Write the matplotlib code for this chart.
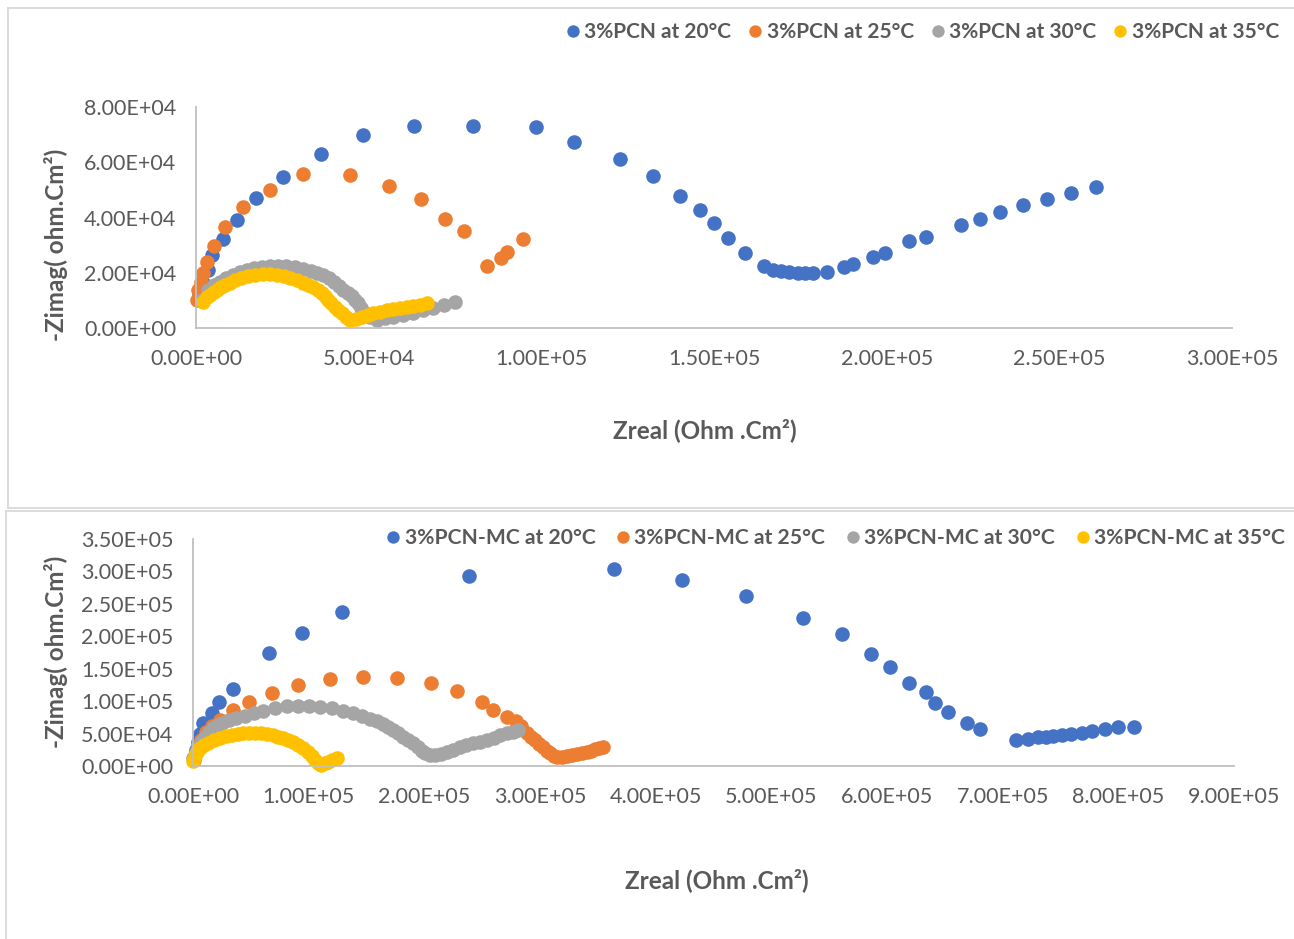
import matplotlib
matplotlib.use("Agg")
import matplotlib.pyplot as plt
from matplotlib.ticker import FuncFormatter, MultipleLocator
from matplotlib.lines import Line2D

plt.rcParams['font.family'] = ['Lato', 'DejaVu Sans']

# ---------------- data: top panel (3%PCN) ----------------
top_labels = ["3%PCN at 20°C", "3%PCN at 25°C", "3%PCN at 30°C", "3%PCN at 35°C"]

pcn20_x = [870, 2030, 3480, 4630, 7820, 11870, 17380, 25200, 36200, 48360, 63130, 80220,
           98460, 109470, 122790, 132350, 140170, 145960, 150010, 154070, 158990, 164490,
           167100, 169420, 171730, 174340, 176370, 178680, 182740, 187660, 190270, 196060,
           199530, 206490, 211410, 221540, 227050, 232840, 239500, 246450, 253400, 260640]
pcn20_y = [11950, 16290, 21000, 26430, 32220, 39100, 47060, 54660, 62990, 69870, 73120, 73120,
           72760, 67330, 61180, 55020, 47780, 42720, 38010, 32580, 27150, 22440,
           21000, 20630, 20270, 19910, 19910, 19910, 20270, 22080, 23170, 25700,
           27150, 31490, 32940, 37290, 39460, 41990, 44530, 46700, 48870, 51040]

pcn25_x = [200, 580, 1450, 2030, 3190, 5210, 8400, 13610, 21430, 30990, 44600, 55890,
           65160, 72110, 77610, 84270, 88330, 90070, 94700]
pcn25_y = [10140, 13760, 16650, 19910, 23890, 29680, 36560, 43800, 49960, 55750, 55390, 51400,
           46700, 39460, 35110, 22440, 25340, 27510, 32220]

pcn30_x = [1740, 3480, 5210, 6950, 8690, 10710, 12740, 14770, 16800, 19110, 21430, 23740,
           26060, 28670, 30990, 33300, 35040, 36780, 38510, 39960, 41410, 42570, 44020, 45180,
           46050, 46920, 47780, 48940, 50390, 52420, 54730, 57050, 59950, 62840, 65740, 68630,
           71820, 75010]
pcn30_y = [10140, 13760, 15570, 16650, 18100, 19190, 20270, 21000, 21720, 22080, 22440, 22440,
           22440, 22080, 21360, 20630, 19910, 19190, 18100, 16650, 15200, 13760, 12670, 11580,
           10140, 9050, 7240, 5430, 3980, 2900, 3620, 3980, 4710, 5430, 6520, 7240,
           8330, 9410]

pcn35_x = [2030, 3190, 4050, 5210, 6080, 7240, 8400, 9850, 11290, 13030, 15060, 17090,
           19400, 21430, 23460, 25480, 27220, 29250, 30990, 32440, 33880, 35330, 36490, 37360,
           38220, 39090, 40250, 41120, 42270, 43430, 44590, 46330, 48070, 49810, 51260, 53280,
           55310, 57050, 59080, 61100, 62840, 64870, 66900]
pcn35_y = [9410, 11220, 11950, 13030, 13760, 14840, 15570, 16290, 17380, 18100, 18820, 19190,
           19550, 19550, 19190, 18820, 18100, 17380, 16290, 15570, 14840, 13760, 12670, 11580,
           10140, 9050, 7600, 6520, 5430, 3980, 2900, 3260, 3980, 4710, 5430, 5790,
           6520, 6880, 7240, 7600, 7960, 8330, 9050]

# ---------------- data: bottom panel (3%PCN-MC) ----------------
bot_labels = ["3%PCN-MC at 20°C", "3%PCN-MC at 25°C", "3%PCN-MC at 30°C", "3%PCN-MC at 35°C"]

mc20_x = [860, 2590, 4320, 6050, 8640, 16420, 22460, 34560, 65660, 94180, 128740, 238460,
          363740, 422500, 477790, 527040, 560740, 585790, 602210, 618620, 633310, 641090,
          652320, 668740, 680830, 711940, 722300, 730940, 737860, 743900, 751680, 759460,
          768960, 777600, 788830, 800060, 813890]
mc20_y = [12340, 24690, 37030, 49380, 66350, 81780, 98750, 118810, 174360, 205220, 237620, 293170,
          303970, 287000, 262310, 228360, 203680, 172820, 152760, 128070, 114180, 97210,
          83320, 66350, 57090, 40120, 41660, 44750, 44750, 46290, 47830, 49380,
          50920, 54010, 57090, 60180, 60180]

mc25_x = [860, 3460, 6910, 11230, 16420, 23330, 34560, 48380, 68260, 90720, 118370, 146880,
          176260, 205630, 228100, 249700, 259200, 271300, 279070, 283390, 288580, 292030,
          295490, 298940, 302400, 305860, 308450, 311900, 314500, 318820, 323140, 327460,
          331780, 336100, 340420, 343870, 347330, 350780, 354240]
mc25_y = [9260, 24690, 40120, 52460, 61720, 70980, 86410, 98750, 112640, 124980, 134240, 137330,
          135780, 128070, 115730, 98750, 86410, 75610, 69440, 61720, 50920, 44750,
          40120, 33950, 29320, 23150, 20060, 15430, 13890, 13890, 15430, 16970,
          18520, 20060, 21600, 23150, 26230, 27770, 29320]

mc30_x = [300, 2590, 4320, 6910, 10370, 13820, 17280, 21600, 25060, 31100, 37150, 44930,
          52700, 60480, 70850, 81220, 90720, 100220, 109730, 120100, 129600, 138240, 146020,
          152930, 158980, 164160, 168480, 172800, 177120, 181440, 185760, 190080, 194400,
          197860, 200450, 204770, 209090, 214270, 219460, 224640, 230690, 235870, 241920,
          247970, 254020, 260060, 265250, 271300, 276480, 280800]
mc30_y = [12340, 21600, 29320, 37030, 44750, 52460, 58630, 63260, 66350, 70980, 74060, 77150,
          81780, 84870, 89490, 92580, 92580, 92580, 91040, 89490, 84870, 81780, 77150,
          72520, 69440, 64810, 60180, 55550, 50920, 44750, 40120, 35490, 29320,
          23150, 20060, 16970, 16970, 18520, 21600, 24690, 29320, 32400, 35490,
          37030, 40120, 43200, 47830, 50920, 52460, 55550]

mc35_x = [200, 1730, 3460, 6050, 9500, 12960, 18140, 23330, 28510, 33700, 38880, 43200,
          48380, 53570, 58750, 63940, 69120, 73440, 77760, 82080, 86400, 90720, 95040,
          99360, 102820, 105410, 108000, 110590, 114050, 116640, 120100, 124420]
mc35_y = [7720, 15430, 21600, 27770, 32400, 35490, 40120, 43200, 46290, 47830, 49380, 50920,
          50920, 50920, 50920, 49380, 47830, 44750, 43200, 40120, 37030, 32400, 27770,
          21600, 15430, 9260, 4630, 1540, 4630, 6170, 9260, 12340]

colors = ["#4472C4", "#ED7D31", "#A5A5A5", "#FFC000"]
TXT = "#595959"
GRID = "#D9D9D9"

W, H = 1294, 939
fig = plt.figure(figsize=(W / 100, H / 100), dpi=100)
fig.patch.set_facecolor("white")


def fx(px):
    return px / W


def fy(py):
    return 1 - py / H


# panel borders
border_kw = dict(color=GRID, lw=1.3, transform=fig.transFigure)
fig.add_artist(Line2D([fx(8), 1], [fy(8), fy(8)], **border_kw))
fig.add_artist(Line2D([fx(8), fx(8)], [fy(8), fy(508)], **border_kw))
fig.add_artist(Line2D([fx(8), 1], [fy(508), fy(508)], **border_kw))
fig.add_artist(Line2D([fx(6), 1], [fy(511), fy(511)], **border_kw))
fig.add_artist(Line2D([fx(6), fx(6)], [fy(511), 0], **border_kw))

sci = FuncFormatter(lambda v, p: f"{v:.2E}")


def style_axes(ax, xmax, xstep, ymax, ystep):
    ax.set_xlim(0, xmax)
    ax.set_ylim(0, ymax)
    ax.xaxis.set_major_locator(MultipleLocator(xstep))
    ax.yaxis.set_major_locator(MultipleLocator(ystep))
    ax.xaxis.set_major_formatter(sci)
    ax.yaxis.set_major_formatter(sci)
    for s in ["top", "right"]:
        ax.spines[s].set_visible(False)
    for s in ["left", "bottom"]:
        ax.spines[s].set_color("#BFBFBF")
        ax.spines[s].set_linewidth(1.3)
    ax.tick_params(axis="both", length=0, labelsize=15.5, labelcolor=TXT)
    ax.tick_params(axis="x", pad=15)
    ax.tick_params(axis="y", pad=14)
    ax.set_facecolor("none")


ms = 10.5

# top panel
ax1 = fig.add_axes([fx(196), fy(328), (1232 - 196) / W, (328 - 107) / H])
style_axes(ax1, 3e5, 5e4, 8e4, 2e4)
top_series = [(pcn20_x, pcn20_y), (pcn25_x, pcn25_y), (pcn30_x, pcn30_y), (pcn35_x, pcn35_y)]
h1 = []
for (xs, ys), c, lab in zip(top_series, colors, top_labels):
    l, = ax1.plot(xs, ys, ls="none", marker="o", ms=ms, mfc=c, mec=c, mew=0,
                  clip_on=False, label=lab)
    h1.append(l)

# bottom panel
ax2 = fig.add_axes([fx(193), fy(766), (1234 - 193) / W, (766 - 539) / H])
style_axes(ax2, 9e5, 1e5, 3.5e5, 5e4)
bot_series = [(mc20_x, mc20_y), (mc25_x, mc25_y), (mc30_x, mc30_y), (mc35_x, mc35_y)]
h2 = []
for (xs, ys), c, lab in zip(bot_series, colors, bot_labels):
    l, = ax2.plot(xs, ys, ls="none", marker="o", ms=ms, mfc=c, mec=c, mew=0,
                  clip_on=False, label=lab)
    h2.append(l)

# axis titles
title_kw = dict(fontsize=17.5, fontweight="bold", color=TXT, ha="center", va="center")
fig.text(fx(705), fy(430), "Zreal (Ohm .Cm²)", **title_kw)
fig.text(fx(717), fy(880), "Zreal (Ohm .Cm²)", **title_kw)
fig.text(fx(56), fy(245), "-Zimag( ohm.Cm²)", rotation=90, **title_kw)
fig.text(fx(56), fy(652), "-Zimag( ohm.Cm²)", rotation=90, **title_kw)

# legends
leg_kw = dict(ncol=4, frameon=False, handletextpad=0.05,
              handlelength=1.0, markerscale=0.85, borderaxespad=0, borderpad=0)
lg1 = fig.legend(handles=h1, loc="center right", bbox_to_anchor=(fx(1279), fy(32)),
                 columnspacing=0.65,
                 prop=dict(family=["Lato", "DejaVu Sans"], weight="bold", size=15), **leg_kw)
lg2 = fig.legend(handles=h2, loc="center right", bbox_to_anchor=(fx(1285), fy(538)),
                 columnspacing=0.8,
                 prop=dict(family=["Lato", "DejaVu Sans"], weight="bold", size=15.2), **leg_kw)
for lg in (lg1, lg2):
    for t in lg.get_texts():
        t.set_color(TXT)

fig.savefig("out.png", dpi=100, facecolor="white")
